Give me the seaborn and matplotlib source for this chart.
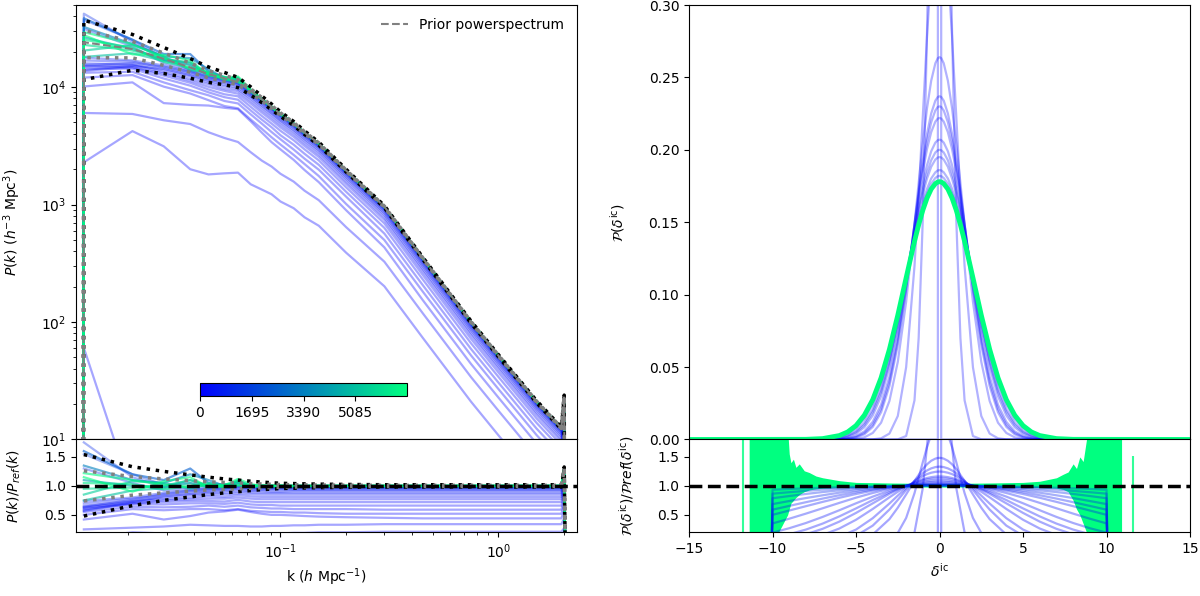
import numpy as np
import pandas as pd
import matplotlib
matplotlib.use("Agg")
import matplotlib.pyplot as plt
import seaborn as sns
from matplotlib.cm import ScalarMappable
from matplotlib.colors import Normalize
from matplotlib.lines import Line2D

# ---------------- power spectrum panel ----------------
k_bins = [0.0125, 0.0209, 0.0291, 0.0385, 0.0467, 0.0553, 0.0638, 0.073, 0.082, 0.091,
          0.1, 0.115, 0.129, 0.15, 0.2, 0.3, 0.45, 0.75, 1.0, 1.5, 1.95]
prior_pk = [24100, 21100, 17400, 14700, 12900, 11900, 11000, 9300, 7900, 6800,
            5900, 4900, 4100, 3300, 1950, 960, 350, 100, 52, 21, 12.5]
upper_2sig = [1.54, 1.33, 1.25, 1.19, 1.15, 1.12, 1.1, 1.08, 1.065, 1.055, 1.045,
              1.04, 1.035, 1.03, 1.025, 1.02, 1.02, 1.02, 1.02, 1.02, 1.02]
lower_2sig = [0.48, 0.66, 0.75, 0.81, 0.85, 0.88, 0.9, 0.92, 0.935, 0.945, 0.955,
              0.96, 0.965, 0.97, 0.975, 0.98, 0.98, 0.98, 0.98, 0.98, 0.98]
upper_1sig = [1.26, 1.16, 1.12, 1.09, 1.07, 1.06, 1.05, 1.04, 1.033, 1.028, 1.023,
              1.02, 1.018, 1.015, 1.012, 1.01, 1.01, 1.01, 1.01, 1.01, 1.01]
lower_1sig = [0.74, 0.84, 0.88, 0.91, 0.93, 0.94, 0.95, 0.96, 0.967, 0.972, 0.977,
              0.98, 0.982, 0.985, 0.988, 0.99, 0.99, 0.99, 0.99, 0.99, 0.99]

# edges of the k range: P falls to ~0 at the first edge, small spike at the last
k_lead = 0.0124
k_spike = 2.01
k_end = 2.03
pk_floor = 0.01
prior_spike = 18.0
spike_boost = 1.3

# sample number of each chain state and its P(k)/P_ref(k)
blue_ids = [0, 15, 30, 45, 70, 100, 140, 180, 230, 280, 340, 400, 470, 550, 650, 800, 1000, 1400]
blue_ratios = [
    [0.0025, 0.00016, 0.0002, 0.0002, 0.0002, 0.0002, 0.0002, 0.0002, 0.0002, 0.0002, 0.0002,
     0.0002, 0.0002, 0.0002, 0.0002, 0.0002, 0.0002, 0.0002, 0.0002, 0.0002, 0.0002],
    [0.095, 0.2, 0.18, 0.136, 0.14, 0.155, 0.17, 0.16, 0.17, 0.18, 0.18,
     0.19, 0.19, 0.2, 0.2, 0.21, 0.21, 0.21, 0.21, 0.21, 0.21],
    [0.25, 0.28, 0.30, 0.33, 0.32, 0.31, 0.31, 0.3, 0.3, 0.31, 0.31,
     0.32, 0.32, 0.33, 0.33, 0.34, 0.34, 0.34, 0.34, 0.34, 0.34],
    [0.42, 0.52, 0.42, 0.48, 0.54, 0.56, 0.59, 0.55, 0.52, 0.5, 0.5,
     0.49, 0.48, 0.47, 0.46, 0.45, 0.44, 0.44, 0.44, 0.44, 0.44],
    [0.5, 0.6, 0.58, 0.6, 0.6, 0.58, 0.6, 0.57, 0.56, 0.55, 0.55,
     0.54, 0.54, 0.53, 0.52, 0.52, 0.52, 0.52, 0.52, 0.52, 0.52],
    [0.55, 0.64, 0.63, 0.64, 0.66, 0.64, 0.66, 0.63, 0.62, 0.61, 0.61,
     0.6, 0.6, 0.6, 0.6, 0.59, 0.59, 0.59, 0.59, 0.59, 0.59],
    [0.6, 0.68, 0.68, 0.7, 0.7, 0.69, 0.71, 0.68, 0.67, 0.67, 0.66,
     0.66, 0.66, 0.66, 0.66, 0.66, 0.66, 0.66, 0.66, 0.66, 0.66],
    [0.63, 0.7, 0.72, 0.74, 0.74, 0.73, 0.76, 0.73, 0.72, 0.72, 0.72,
     0.72, 0.72, 0.72, 0.72, 0.72, 0.72, 0.72, 0.72, 0.72, 0.72],
    [0.57, 0.7, 0.75, 0.77, 0.78, 0.78, 0.8, 0.78, 0.77, 0.77, 0.77,
     0.77, 0.77, 0.77, 0.77, 0.77, 0.77, 0.77, 0.77, 0.77, 0.77],
    [0.62, 0.73, 0.77, 0.8, 0.82, 0.81, 0.84, 0.82, 0.81, 0.81, 0.81,
     0.81, 0.81, 0.81, 0.81, 0.81, 0.81, 0.81, 0.81, 0.81, 0.81],
    [0.66, 0.74, 0.8, 0.84, 0.85, 0.85, 0.87, 0.86, 0.85, 0.85, 0.85,
     0.85, 0.85, 0.85, 0.85, 0.85, 0.85, 0.85, 0.85, 0.85, 0.85],
    [0.58, 0.72, 0.82, 0.86, 0.88, 0.88, 0.9, 0.89, 0.88, 0.88, 0.88,
     0.88, 0.88, 0.88, 0.88, 0.88, 0.88, 0.88, 0.88, 0.88, 0.88],
    [0.7, 0.78, 0.84, 0.88, 0.9, 0.91, 0.93, 0.91, 0.91, 0.9, 0.9,
     0.91, 0.91, 0.91, 0.91, 0.91, 0.91, 0.91, 0.91, 0.91, 0.91],
    [0.64, 0.76, 0.86, 0.91, 0.92, 0.93, 0.95, 0.93, 0.93, 0.93, 0.93,
     0.93, 0.93, 0.93, 0.93, 0.93, 0.93, 0.93, 0.93, 0.93, 0.93],
    [0.74, 0.8, 0.88, 0.92, 0.94, 0.95, 0.97, 0.95, 0.95, 0.95, 0.95,
     0.95, 0.95, 0.95, 0.95, 0.95, 0.95, 0.95, 0.95, 0.95, 0.95],
    [1.3, 1.05, 0.92, 0.94, 0.95, 0.96, 0.98, 0.96, 0.96, 0.96, 0.96,
     0.96, 0.96, 0.96, 0.96, 0.96, 0.96, 0.96, 0.96, 0.96, 0.96],
    [1.75, 1.15, 0.98, 0.96, 0.97, 0.97, 0.99, 0.97, 0.97, 0.97, 0.97,
     0.97, 0.97, 0.97, 0.97, 0.97, 0.97, 0.97, 0.97, 0.97, 0.97],
    [1.55, 1.2, 1.02, 1.05, 0.99, 0.98, 1.0, 0.98, 0.98, 0.98, 0.98,
     0.98, 0.98, 0.98, 0.98, 0.98, 0.98, 0.98, 0.98, 0.98, 0.98],
]
late_ids = [2500, 3400, 4300, 5100, 5500, 5900, 6300, 6600, 6780]
late_ratios = [
    [1.6, 1.2, 1.1, 1.3, 1.05, 1.02, 1.05, 1.0, 0.99, 0.99, 0.99,
     0.99, 0.99, 0.99, 0.99, 0.99, 0.99, 0.99, 0.99, 0.99, 0.99],
    [1.35, 1.1, 1.05, 1.2, 1.1, 1.0, 1.08, 1.01, 1.0, 0.99, 0.99,
     0.99, 0.99, 0.99, 0.99, 0.99, 0.99, 0.99, 0.99, 0.99, 0.99],
    [1.1, 1.0, 0.98, 1.1, 1.0, 0.98, 1.02, 1.0, 0.99, 1.0, 1.0,
     1.0, 1.0, 1.0, 1.0, 1.0, 1.0, 1.0, 1.0, 1.0, 1.0],
    [0.75, 0.92, 0.96, 1.05, 0.97, 1.02, 1.05, 1.01, 1.0, 1.0, 1.0,
     1.0, 1.0, 1.0, 1.0, 1.0, 1.0, 1.0, 1.0, 1.0, 1.0],
    [0.85, 1.08, 1.05, 0.95, 1.03, 0.98, 1.1, 0.99, 1.01, 1.0, 1.0,
     1.0, 1.0, 1.0, 1.0, 1.0, 1.0, 1.0, 1.0, 1.0, 1.0],
    [0.95, 0.97, 1.0, 1.1, 1.0, 1.03, 1.0, 1.02, 0.99, 1.0, 1.01,
     1.0, 1.0, 1.0, 1.0, 1.0, 1.0, 1.0, 1.0, 1.0, 1.0],
    [1.05, 1.03, 0.94, 1.0, 1.05, 1.0, 1.08, 0.98, 1.0, 1.01, 1.0,
     0.99, 1.0, 1.0, 1.0, 1.0, 1.0, 1.0, 1.0, 1.0, 1.0],
    [1.22, 1.1, 1.02, 0.98, 1.02, 0.97, 1.02, 1.0, 1.01, 1.0, 1.0,
     1.0, 1.0, 1.0, 1.0, 1.0, 1.0, 1.0, 1.0, 1.0, 1.0],
    [1.15, 0.9, 1.08, 1.15, 0.98, 1.01, 1.12, 1.03, 1.0, 0.99, 1.0,
     1.0, 1.0, 1.0, 1.0, 1.0, 1.0, 1.0, 1.0, 1.0, 1.0],
]

n_samples = 6780
cbar_ticks = [0, 1695, 3390, 5085]

# ---------------- initial density pdf panel ----------------
# half profiles (delta >= 0), the histograms are symmetric about 0
delta_half = [0, 0.1, 0.25, 0.5, 0.75, 1, 1.25, 1.5, 2, 2.5, 3, 3.5, 4, 4.5, 5, 5.5, 6, 7, 8, 15]
pdf_ids = [0, 10, 20, 40, 80, 100, 120, 200, 300, 380, 450, 600]
pdf_half = [
    [40.0, 0, 0, 0, 0, 0, 0, 0, 0, 0, 0, 0, 0, 0, 0, 0, 0, 0, 0, 0],
    [0.614, 0.6055, 0.563, 0.4339, 0.2811, 0.1531, 0.0701, 0.027, 0.0024, 0.0001,
     0, 0, 0, 0, 0, 0, 0, 0, 0, 0],
    [0.3685, 0.3667, 0.3572, 0.3252, 0.2781, 0.2235, 0.1687, 0.1197, 0.0499, 0.0162,
     0.0041, 0.0008, 0.0001, 0, 0, 0, 0, 0, 0, 0],
    [0.264, 0.2633, 0.2598, 0.2477, 0.2287, 0.2045, 0.1772, 0.1487, 0.0951, 0.0536,
     0.0266, 0.0116, 0.0045, 0.0015, 0.0004, 0.0001, 0, 0, 0, 0],
    [0.237, 0.2365, 0.234, 0.2251, 0.211, 0.1927, 0.1716, 0.1488, 0.1036, 0.0651,
     0.0369, 0.0188, 0.0087, 0.0036, 0.0014, 0.0005, 0.0001, 0, 0, 0],
    [0.23, 0.2296, 0.2272, 0.2191, 0.2061, 0.1893, 0.1696, 0.1484, 0.1055, 0.0681,
     0.0398, 0.0211, 0.0102, 0.0045, 0.0018, 0.0006, 0.0002, 0, 0, 0],
    [0.222, 0.2216, 0.2195, 0.2122, 0.2005, 0.1852, 0.1672, 0.1476, 0.1074, 0.0714,
     0.0434, 0.024, 0.0122, 0.0056, 0.0024, 0.0009, 0.0003, 0, 0, 0],
    [0.207, 0.2067, 0.205, 0.199, 0.1894, 0.1768, 0.1618, 0.1451, 0.1101, 0.0772,
     0.05, 0.0299, 0.0166, 0.0085, 0.004, 0.0017, 0.0007, 0.0001, 0, 0],
    [0.195, 0.1947, 0.1933, 0.1883, 0.1802, 0.1695, 0.1567, 0.1423, 0.1114, 0.0813,
     0.0553, 0.0351, 0.0208, 0.0115, 0.0059, 0.0028, 0.0013, 0.0002, 0, 0],
    [0.2, 0.1997, 0.1982, 0.1928, 0.1841, 0.1726, 0.1589, 0.1436, 0.111, 0.0797,
     0.0531, 0.0329, 0.019, 0.0101, 0.005, 0.0023, 0.001, 0.0001, 0, 0],
    [0.186, 0.1858, 0.1845, 0.1802, 0.1731, 0.1637, 0.1524, 0.1396, 0.1117, 0.0838,
     0.059, 0.039, 0.0242, 0.0141, 0.0077, 0.0039, 0.0019, 0.0004, 0.0001, 0],
    [0.182, 0.1818, 0.1806, 0.1765, 0.1699, 0.1611, 0.1504, 0.1383, 0.1118, 0.0849,
     0.0607, 0.0409, 0.0259, 0.0154, 0.0086, 0.0046, 0.0023, 0.0005, 0.0001, 0],
]
pdf_final_half = [0.178, 0.1778, 0.1767, 0.1729, 0.1667, 0.1584, 0.1483, 0.1369, 0.1116, 0.0858,
                  0.0623, 0.0426, 0.0275, 0.0168, 0.0096, 0.0052, 0.0027, 0.0006, 0.0001, 0]

# ratio to the reference pdf, half profiles; histograms are empty past |delta| = 10
ratio_delta_half = [0, 0.1, 0.25, 0.5, 0.75, 1, 1.5, 2, 2.5, 3, 4, 5, 6, 7, 8, 9, 10, 10.05]
ratio_ids = [0, 10, 20, 40, 80, 120, 200, 250, 300, 350, 450, 520, 600, 800, 950, 1100, 1300]
ratio_half = [
    [60.0, 0, 0, 0, 0, 0, 0, 0, 0, 0, 0, 0, 0, 0, 0, 0, 0, 0],
    [3.449, 3.405, 3.186, 2.51, 1.686, 0.966, 0.197, 0.021, 0, 0, 0, 0, 0, 0, 0, 0, 0, 0],
    [2.07, 2.062, 2.021, 1.881, 1.669, 1.411, 0.874, 0.447, 0.189, 0.066, 0.0045, 0, 0, 0, 0, 0, 0, 0],
    [1.483, 1.481, 1.47, 1.433, 1.372, 1.291, 1.086, 0.853, 0.624, 0.427, 0.162, 0.047, 0.01, 0, 0, 0, 0, 0],
    [1.332, 1.33, 1.324, 1.302, 1.266, 1.217, 1.087, 0.929, 0.758, 0.592, 0.315, 0.14, 0.052, 0.016, 0, 0, 0, 0],
    [1.247, 1.246, 1.242, 1.227, 1.203, 1.169, 1.078, 0.963, 0.832, 0.696, 0.443, 0.247, 0.121, 0.052, 0.02, 0, 0, 0],
    [1.163, 1.162, 1.16, 1.151, 1.136, 1.116, 1.06, 0.987, 0.899, 0.803, 0.602, 0.416, 0.265, 0.155, 0.084, 0.042, 0.019, 0],
    [1.13, 1.13, 1.128, 1.122, 1.111, 1.097, 1.056, 1.002, 0.937, 0.863, 0.699, 0.534, 0.384, 0.26, 0.166, 0.1, 0.056, 0],
    [1.096, 1.095, 1.094, 1.089, 1.081, 1.07, 1.04, 0.998, 0.947, 0.888, 0.755, 0.612, 0.474, 0.35, 0.247, 0.166, 0.107, 0],
    [1.07, 1.07, 1.069, 1.065, 1.06, 1.052, 1.03, 1.0, 0.962, 0.918, 0.815, 0.7, 0.58, 0.465, 0.36, 0.27, 0.195, 0],
    [1.045, 1.045, 1.044, 1.042, 1.039, 1.034, 1.02, 1.001, 0.976, 0.948, 0.878, 0.797, 0.707, 0.614, 0.522, 0.434, 0.353, 0],
    [1.03, 1.03, 1.03, 1.028, 1.026, 1.023, 1.013, 1.001, 0.985, 0.965, 0.918, 0.86, 0.795, 0.724, 0.65, 0.575, 0.501, 0],
    [1.023, 1.023, 1.023, 1.022, 1.02, 1.017, 1.01, 1.001, 0.988, 0.974, 0.937, 0.892, 0.839, 0.781, 0.719, 0.655, 0.59, 0],
    [1.017, 1.017, 1.017, 1.016, 1.015, 1.013, 1.008, 1.001, 0.992, 0.982, 0.955, 0.922, 0.883, 0.838, 0.79, 0.739, 0.686, 0],
    [1.01, 1.01, 1.01, 1.009, 1.009, 1.008, 1.004, 1.0, 0.994, 0.988, 0.97, 0.949, 0.923, 0.894, 0.861, 0.825, 0.787, 0],
    [1.006, 1.006, 1.006, 1.006, 1.005, 1.005, 1.003, 1.0, 0.997, 0.993, 0.982, 0.969, 0.953, 0.935, 0.914, 0.891, 0.866, 0],
    [1.002, 1.002, 1.002, 1.002, 1.002, 1.001, 1.0, 0.999, 0.998, 0.996, 0.991, 0.985, 0.977, 0.968, 0.958, 0.947, 0.934, 0],
]
# spread of the noisy late-sample ratios (green band)
late_env_x = [-11.4, -10.0, -9.1, -9.0, -8.9, -8.75, -8.6, -8.4, -8.1, -7.8, -7.4, -7.0, -6.0, -5.0,
              -3.0, 0.0, 3.0, 5.0, 6.0, 7.0, 7.4, 7.7, 8.0, 8.2, 8.4, 8.6, 8.8, 9.1, 10.9]
late_env_hi = [2.0, 2.0, 2.0, 1.55, 1.4, 1.46, 1.32, 1.38, 1.26, 1.23, 1.17, 1.14, 1.09, 1.06,
               1.05, 1.04, 1.05, 1.06, 1.08, 1.14, 1.2, 1.24, 1.38, 1.3, 1.5, 1.42, 1.8, 2.0, 2.0]
late_env_lo = [0.0, 0.0, 0.5, 0.6, 0.7, 0.75, 0.8, 0.85, 0.9, 0.93, 0.95, 0.96, 0.97, 0.97,
               0.98, 0.98, 0.98, 0.97, 0.97, 0.96, 0.94, 0.9, 0.75, 0.6, 0.5, 0.35, 0.2, 0.0, 0.0]
late_spike_x = [-11.75, 11.6]
late_spike_top = [2.0, 1.52]


def pk_frame(ids, ratios):
    rows = []
    k_full = [k_lead] + k_bins + [k_spike, k_end]
    for sid, ratio in zip(ids, ratios):
        r_edge = ratio[-1] * spike_boost
        pk = [pk_floor] + [p * r for p, r in zip(prior_pk, ratio)] + [prior_spike * r_edge, pk_floor]
        rr = [np.nan] + list(ratio) + [r_edge, 0.0]
        for k, p, r in zip(k_full, pk, rr):
            rows.append({"k": k, "P": p, "ratio": r, "sample": sid})
    return pd.DataFrame(rows)


def mirror(xh, yh):
    xh = np.asarray(xh, float)
    yh = np.asarray(yh, float)
    return np.concatenate([-xh[:0:-1], xh]), np.concatenate([yh[:0:-1], yh])


def sym_frame(ids, halves, xh, yname):
    parts = []
    for sid, half in zip(ids, halves):
        x, y = mirror(xh, half)
        parts.append(pd.DataFrame({"delta": x, yname: y, "sample": sid}))
    return pd.concat(parts, ignore_index=True)


df_blue = pk_frame(blue_ids, blue_ratios)
df_late = pk_frame(late_ids, late_ratios)
df_bounds = pk_frame(["u2", "l2", "u1", "l1", "prior"],
                     [upper_2sig, lower_2sig, upper_1sig, lower_1sig, [1.0] * len(k_bins)])

df_pdf = sym_frame(pdf_ids, pdf_half, delta_half, "pdf")
df_pdf_final = sym_frame([n_samples], [pdf_final_half], delta_half, "pdf")
df_ratio = sym_frame(ratio_ids, ratio_half, ratio_delta_half, "ratio")

cmap = plt.get_cmap("winter")
green = cmap(1.0)

fig = plt.figure(figsize=(12, 5.96), dpi=100)
ax_pk = fig.add_axes([0.0633, 0.2626, 0.4175, 0.729])
ax_pr = fig.add_axes([0.0633, 0.1069, 0.4175, 0.1557], sharex=ax_pk)
ax_pdf = fig.add_axes([0.5742, 0.2626, 0.4175, 0.729])
ax_dr = fig.add_axes([0.5742, 0.1069, 0.4175, 0.1557], sharex=ax_pdf)

ax_pk.set_xscale("log")
ax_pk.set_yscale("log")

line_kw = dict(x="k", hue="sample", units="sample", estimator=None, sort=False,
               palette="winter", hue_norm=(0, n_samples), legend=False)

# P(k) samples
sns.lineplot(data=df_blue, y="P", lw=1.6, alpha=0.35, ax=ax_pk, **line_kw)
sns.lineplot(data=df_late, y="P", lw=1.6, alpha=0.6, ax=ax_pk, **line_kw)
sns.lineplot(data=df_blue.dropna(), y="ratio", lw=1.6, alpha=0.35, ax=ax_pr, **line_kw)
sns.lineplot(data=df_late.dropna(), y="ratio", lw=1.6, alpha=0.6, ax=ax_pr, **line_kw)

# prior and its 1/2 sigma bands
bound_style = {"u2": ("black", ":", 2.5), "l2": ("black", ":", 2.5),
               "u1": ("gray", ":", 2.5), "l1": ("gray", ":", 2.5),
               "prior": ("gray", "--", 1.5)}
for name, (col, ls, lw) in bound_style.items():
    sub = df_bounds[df_bounds["sample"] == name]
    ax_pk.plot(sub["k"], sub["P"], color=col, ls=ls, lw=lw, zorder=5)
    if name != "prior":
        sub = sub.dropna()
        ax_pr.plot(sub["k"], sub["ratio"], color=col, ls=ls, lw=lw, zorder=5)
ax_pr.axhline(1.0, color="black", ls="--", lw=2.5, zorder=6)

ax_pk.set_ylim(10, 5e4)
ax_pk.set_xlim(0.0115, 2.3)
ax_pr.set_ylim(0.2, 1.8)
ax_pr.set_yticks([0.5, 1.0, 1.5])
ax_pk.tick_params(axis="x", which="both", bottom=False, labelbottom=False)
ax_pk.set_xlabel("")
ax_pk.set_ylabel(r"$P(k)$ $(h^{-3}$ Mpc$^3)$")
ax_pr.set_ylabel(r"$P(k)/P_{ref}(k)$")
ax_pr.set_xlabel(r"k ($h$ Mpc$^{-1}$)")
ax_pk.yaxis.set_label_coords(-0.105, 0.5)
ax_pr.yaxis.set_label_coords(-0.105, 0.5)

ax_pk.legend(handles=[Line2D([], [], color="gray", ls="--", lw=1.5, label="Prior powerspectrum")],
             loc="upper right", frameon=False, fontsize=10)

cax = fig.add_axes([200 / 1200, (596 - 396) / 596, 207 / 1200, 13 / 596])
cb = fig.colorbar(ScalarMappable(norm=Normalize(0, n_samples), cmap="winter"), cax=cax,
                  orientation="horizontal", ticks=cbar_ticks)
cb.ax.tick_params(labelsize=10)

# delta_ic pdf samples
pdf_kw = dict(x="delta", hue="sample", units="sample", estimator=None, sort=False,
              palette="winter", hue_norm=(0, n_samples), legend=False)
sns.lineplot(data=df_pdf, y="pdf", lw=1.6, alpha=0.3, ax=ax_pdf, **pdf_kw)
sns.lineplot(data=df_pdf_final, y="pdf", lw=3.5, alpha=1.0, ax=ax_pdf, **pdf_kw)

ax_dr.fill_between(late_env_x, late_env_lo, late_env_hi, color=green, lw=0, zorder=1)
ax_dr.vlines(late_spike_x, 0, late_spike_top, color=green, lw=1.5, alpha=0.8, zorder=1)
sns.lineplot(data=df_ratio, y="ratio", lw=1.6, alpha=0.35, ax=ax_dr, zorder=2, **pdf_kw)
ax_dr.axhline(1.0, color="black", ls="--", lw=2.5, zorder=6)

ax_pdf.set_xlim(-15, 15)
ax_pdf.set_ylim(0, 0.30)
ax_pdf.set_yticks([0.0, 0.05, 0.10, 0.15, 0.20, 0.25, 0.30])
ax_pdf.yaxis.set_major_formatter(plt.FormatStrFormatter("%.2f"))
ax_dr.set_ylim(0.2, 1.8)
ax_dr.set_yticks([0.5, 1.0, 1.5])
ax_pdf.tick_params(axis="x", which="both", bottom=False, labelbottom=False)
ax_pdf.set_xlabel("")
ax_pdf.set_ylabel(r"$\mathcal{P}(\delta^{\rm ic})$")
ax_dr.set_ylabel(r"$\mathcal{P}(\delta^{\rm ic})/\mathcal{P}ref(\delta^{\rm ic})$")
ax_dr.set_xlabel(r"$\delta^{\rm ic}$")
ax_pdf.yaxis.set_label_coords(-0.124, 0.5)
ax_dr.yaxis.set_label_coords(-0.106, 0.5)

fig.savefig("out.png", dpi=100)
